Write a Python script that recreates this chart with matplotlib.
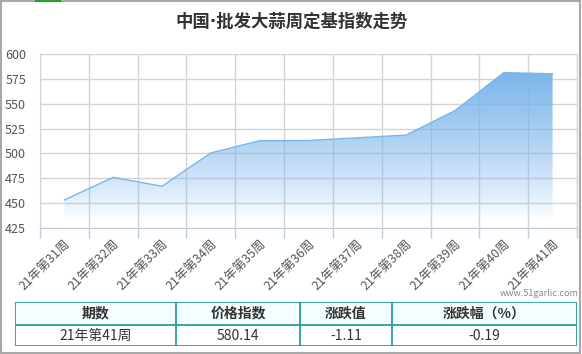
import numpy as np
import matplotlib.pyplot as plt
from matplotlib.patches import Rectangle
from matplotlib.lines import Line2D

plt.rcParams['font.family'] = ['Noto Sans CJK SC', 'DejaVu Sans']

# 数据
weeks = ['21年第31周', '21年第32周', '21年第33周', '21年第34周', '21年第35周', '21年第36周',
         '21年第37周', '21年第38周', '21年第39周', '21年第40周', '21年第41周']
index_values = [453.2, 476.0, 467.0, 500.5, 512.8, 513.0, 515.7, 518.5, 543.0, 581.25, 580.14]
fill_base = 434
y_ticks = [425, 450, 475, 500, 525, 550, 575, 600]

table_header = ['期数', '价格指数', '涨跌值', '涨跌幅（%）']
table_row = ['21年第41周', '580.14', '-1.11', '-0.19']

W, H = 582, 354
fig = plt.figure(figsize=(W / 100, H / 100), dpi=100)

def px(x0, y0, x1, y1):
    # 像素框 -> figure 坐标
    return [x0 / W, 1 - y1 / H, (x1 - x0) / W, (y1 - y0) / H]

ax = fig.add_axes(px(40, 54, 577, 228))
x = np.arange(len(weeks))

# 渐变填充
line_color = '#7cb5ec'
top = max(index_values)
t = np.linspace(0, 1, 256)
cols = np.ones((256, 1, 4))
cols[:, 0, 0] = 0.486
cols[:, 0, 1] = 0.710
cols[:, 0, 2] = 0.925
cols[:, 0, 3] = t ** 0.8
img = ax.imshow(cols, extent=[x[0], x[-1], fill_base, top], origin='lower',
                aspect='auto', zorder=2, interpolation='bilinear')
poly = ax.fill_between(x, index_values, fill_base, color='none', lw=0)
img.set_clip_path(poly.get_paths()[0], transform=ax.transData)
ax.plot(x, index_values, color=line_color, lw=1, zorder=3)

ax.set_xlim(-0.5, len(weeks) - 0.5)
ax.set_ylim(425, 600)
ax.set_yticks(y_ticks)
ax.set_yticklabels([str(v) for v in y_ticks])
ax.tick_params(axis='y', length=0, pad=10, labelsize=9, labelcolor='#555555')

ax.set_xticks(np.arange(-0.5, len(weeks)), minor=False)
ax.set_xticklabels([])
ax.set_xticks(x, minor=True)
ax.set_xticklabels(weeks, minor=True, rotation=45, ha='right', va='top',
                   rotation_mode='anchor', fontsize=9, color='#555555')
ax.tick_params(axis='x', which='major', length=7, color='#c0cbe0', width=1)
ax.tick_params(axis='x', which='minor', length=0, pad=7)

ax.grid(True, which='major', color='#d4d4d4', lw=1, zorder=0)
ax.set_axisbelow(True)
for s in ['top', 'right', 'left']:
    ax.spines[s].set_color('#d4d4d4')
ax.spines['bottom'].set_color('#c0cbe0')

fig.text(292 / W, 1 - 22 / H, '中国·批发大蒜周定基指数走势', ha='center', va='center',
         fontsize=12.5, fontweight='bold', color='#333333',
         family=['DejaVu Sans', 'Noto Sans CJK SC'])
fig.text(579 / W, 1 - 294 / H, 'www.51garlic.com', ha='right', va='center',
         fontsize=6.5, color='#888888')

# 表格
tax = fig.add_axes(px(15, 302, 577, 346))
tax.set_xlim(15, 577)
tax.set_ylim(346, 302)
tax.axis('off')
edges = [15, 176, 300, 392, 577]
teal = '#2a9d9d'
tax.add_patch(Rectangle((15, 302), 562, 23, facecolor='#f4fefe', edgecolor='none'))
for yy in [302, 325, 346]:
    tax.add_line(Line2D([15, 577], [yy, yy], color=teal, lw=1.3))
for xx in edges:
    tax.add_line(Line2D([xx, xx], [302, 346], color=teal, lw=1.3))
for i in range(4):
    cx = (edges[i] + edges[i + 1]) / 2
    tax.text(cx, 313.5, table_header[i], ha='center', va='center', fontsize=10,
             fontweight='bold', color='#333333')
    tax.text(cx, 335.5, table_row[i], ha='center', va='center', fontsize=10,
             color='#333333')

# 外框
fig.add_artist(Rectangle((0.5 / W, 1.5 / H), 579.5 / W, 351.5 / H, transform=fig.transFigure,
                         fill=False, edgecolor='#a8a8a8', lw=1.5))
fig.add_artist(Line2D([36 / W, 60 / W], [1 - 0.5 / H, 1 - 0.5 / H], transform=fig.transFigure,
                      color='#2a9d2a', lw=1.5))

fig.savefig('out.png', dpi=100)
